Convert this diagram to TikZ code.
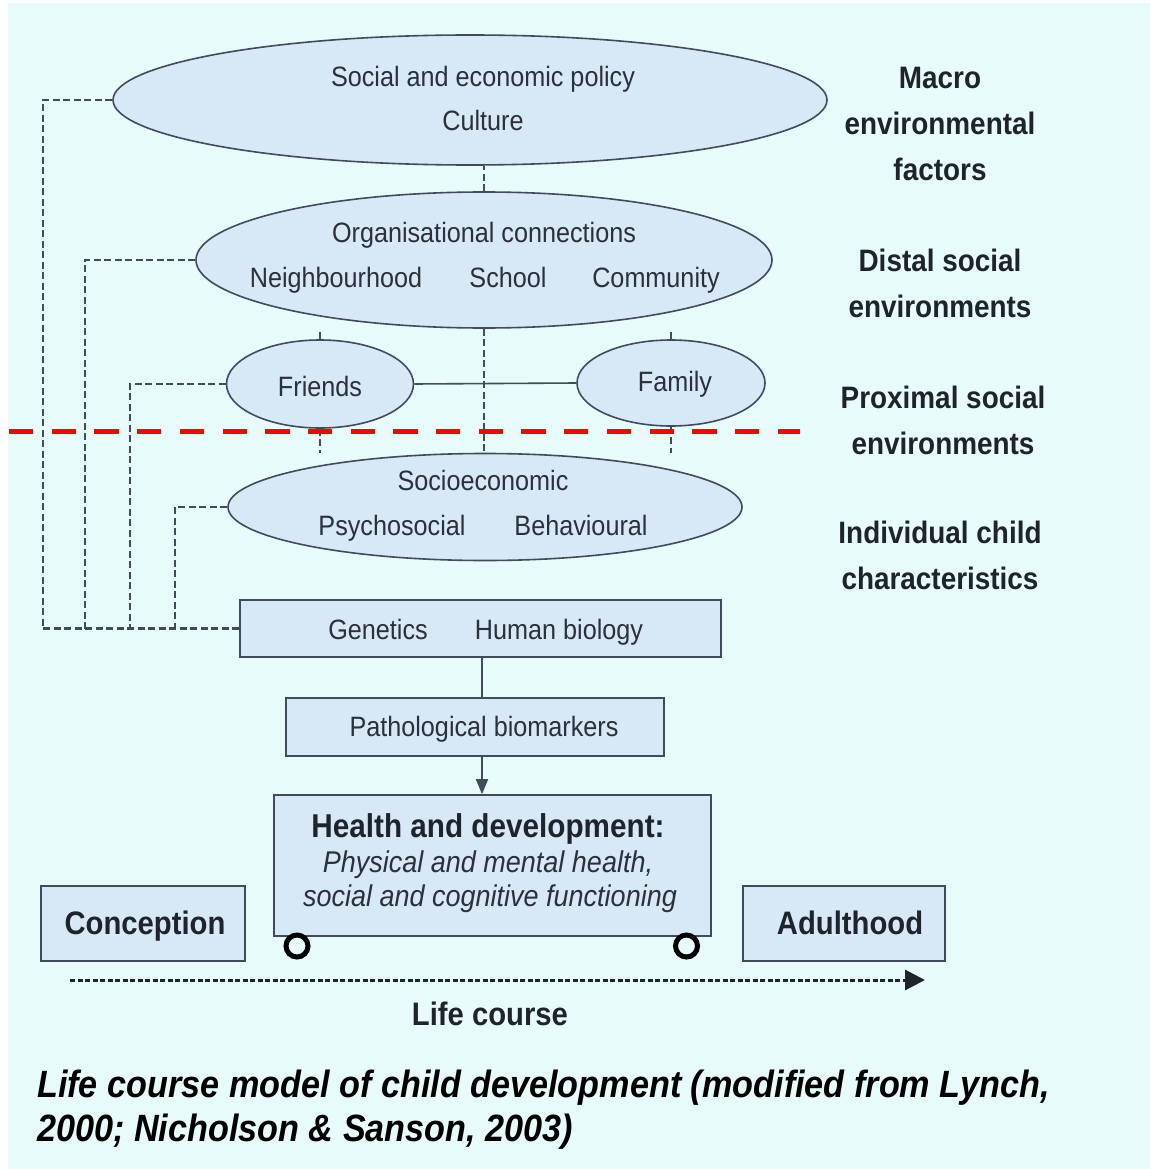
\documentclass[tikz,border=0pt]{standalone}
\usepackage{fontspec}
\setmainfont{Liberation Sans}[FakeStretch=0.9]
\usetikzlibrary{shapes.geometric,arrows.meta}

\pgfdeclarelayer{paper}
\pgfdeclarelayer{wires}
\pgfsetlayers{paper,wires,main}

\definecolor{paperc}{HTML}{E8FBFB}
\definecolor{shell}{HTML}{D7E8F6}
\definecolor{edge}{HTML}{434A59}
\definecolor{ink}{HTML}{2C303B}
\definecolor{darkink}{HTML}{1F232C}
\definecolor{cut}{HTML}{FF0000}

\tikzset{
  x=1pt, y=-1pt,
  oval/.style={ellipse, draw=edge, fill=shell, line width=1.6pt, inner sep=0pt},
  panel/.style={rectangle, draw=edge, fill=shell, line width=1.6pt, inner sep=0pt},
  lbl/.style={text=ink, font=\fontsize{28}{32}\selectfont, inner sep=0pt, text height=20pt, text depth=0pt},
  side/.style={text=darkink, font=\fontsize{31}{46}\selectfont\bfseries, align=center, inner sep=0pt},
  stage/.style={text=darkink, font=\fontsize{32.5}{36}\selectfont\bfseries, inner sep=0pt, text height=23pt, text depth=0pt},
  link/.style={draw=edge, line width=2.1pt, dash pattern=on 7pt off 3.5pt},
  tie/.style={draw=edge, line width=1.6pt},
  wheel/.style={circle, draw=black, line width=5pt, fill=paperc, minimum size=22pt, inner sep=0pt},
}

\begin{document}
\begin{tikzpicture}
\useasboundingbox (0,0) rectangle (1150,1169);
\begin{pgfonlayer}{paper}
  \fill[white] (0,0) rectangle (1150,1169);
  \fill[paperc] (8,3) rectangle (1150,1169);
\end{pgfonlayer}

% ---- macro environment
\node[oval, minimum width=714pt, minimum height=130pt] (macro) at (470,100) {};
\node[lbl] (policy) at (483,77) {Social and economic policy};
\node[lbl] (culture) at (483,121) {Culture};

% ---- distal social environment
\node[oval, minimum width=576pt, minimum height=136pt] (distal) at (484,260) {};
\node[lbl] (orgs) at (484,232) {Organisational connections};
\node[lbl] (hood) at (336,277) {Neighbourhood};
\node[lbl] (school) at (508,277) {School};
\node[lbl] (comm) at (656,277) {Community};

% ---- proximal social environment
\node[oval, minimum width=187pt, minimum height=88pt] (friends) at (320,384) {};
\node[lbl] (friendsT) at (320,386) {Friends};
\node[oval, minimum width=188pt, minimum height=86pt] (family) at (671,383) {};
\node[lbl] (familyT) at (675,381) {Family};

% ---- individual characteristics
\node[oval, minimum width=514pt, minimum height=107pt] (socio) at (485,507) {};
\node[lbl] (socioT) at (483,480) {Socioeconomic};
\node[lbl] (psycho) at (392,525) {Psychosocial};
\node[lbl] (behav) at (581,525) {Behavioural};

% ---- biology
\node[panel, minimum width=481pt, minimum height=57pt] (genes) at (480.5,628.5) {};
\node[lbl] (genetics) at (378,629) {Genetics};
\node[lbl] (humbio) at (559,629) {Human biology};
\node[panel, minimum width=378pt, minimum height=58pt] (patho) at (475,727) {};
\node[lbl] (pathoT) at (484,726) {Pathological biomarkers};

% ---- outcome wagon
\node[panel, minimum width=437pt, minimum height=141pt] (health) at (492.5,865.5) {};
\node[text=darkink, font=\fontsize{33}{36}\selectfont\bfseries, inner sep=0pt] (healthT) at (488,829) {Health and development:};
\node[text=ink, font=\fontsize{30}{34}\selectfont\itshape, inner sep=0pt] (healthA) at (488,865) {Physical and mental health,};
\node[text=ink, font=\fontsize{30}{34}\selectfont\itshape, inner sep=0pt] (healthB) at (490,899) {social and cognitive functioning};
\node[wheel] (wheelL) at (297,946) {};
\node[wheel] (wheelR) at (686.5,946) {};

% ---- life course
\node[panel, minimum width=204pt, minimum height=75pt] (concept) at (143,923.5) {};
\node[stage] (conceptT) at (145,923) {Conception};
\node[panel, minimum width=202pt, minimum height=75pt] (adult) at (844,923.5) {};
\node[stage] (adultT) at (850,923) {Adulthood};
\coordinate (lcA) at (70,980);
\coordinate (lcB) at (925,980);
\draw[draw=darkink, line width=3pt, dash pattern=on 5pt off 2.5pt,
      -{Triangle[length=20pt,width=20pt]}] (lcA) -- (lcB);
\node[stage] (lifecourse) at (490,1014) {Life course};

% ---- level names
\node[side] (lvMacro) at (940,124) {Macro\\environmental\\factors};
\node[side] (lvDistal) at (940,283) {Distal social\\environments};
\node[side] (lvProx) at (943,420) {Proximal social\\environments};
\node[side] (lvIndiv) at (940,555) {Individual child\\characteristics};

% ---- caption
\node[text=black, font=\fontsize{38}{44}\selectfont\bfseries\itshape, align=left,
      anchor=north west, inner sep=0pt] (caption) at (37,1070)
  {Life course model of child development (modified from Lynch,\\2000; Nicholson \& Sanson, 2003)};

% ---- connectors
\coordinate (spine) at (482,0);
\coordinate (xa) at (43,0);
\coordinate (xb) at (85,0);
\coordinate (xc) at (130,0);
\coordinate (xd) at (175,0);
\begin{pgfonlayer}{wires}
  \draw[link] (distal.north) -- (distal.north |- macro.south);
  \draw[link] (distal.south) -- (distal.south |- socio.north);
  \draw[link] (friends.north) -- (friends.north |- distal.south);
  \draw[link] (friends.south) -- (friends.south |- socio.north);
  \draw[link] (family.north) -- (family.north |- distal.south);
  \draw[link] (family.south) -- (family.south |- socio.north);
  \draw[tie] (friends.east) -- (family.west);
  \draw[tie] (spine |- genes.south) -- (spine |- patho.north);
\end{pgfonlayer}
\draw[tie, -{Triangle[length=15pt,width=12pt]}] (spine |- patho.south) -- (spine |- health.north);

% feedback from every level down to biology
\draw[link] (macro.west) -| (xa |- genes.west);
\draw[link] (distal.west) -| (xb |- genes.west);
\draw[link] (friends.west) -| (xc |- genes.west);
\draw[link] (socio.west) -| (xd |- genes.west);
\draw[link] (xa |- genes.west) -- (genes.west);

% ---- dividing line
\coordinate (cutA) at (9,431);
\coordinate (cutB) at (800,431);
\draw[cut, line width=5pt, dash pattern=on 24.3pt off 18.4pt] (cutA) -- (cutB);
\end{tikzpicture}
\end{document}
